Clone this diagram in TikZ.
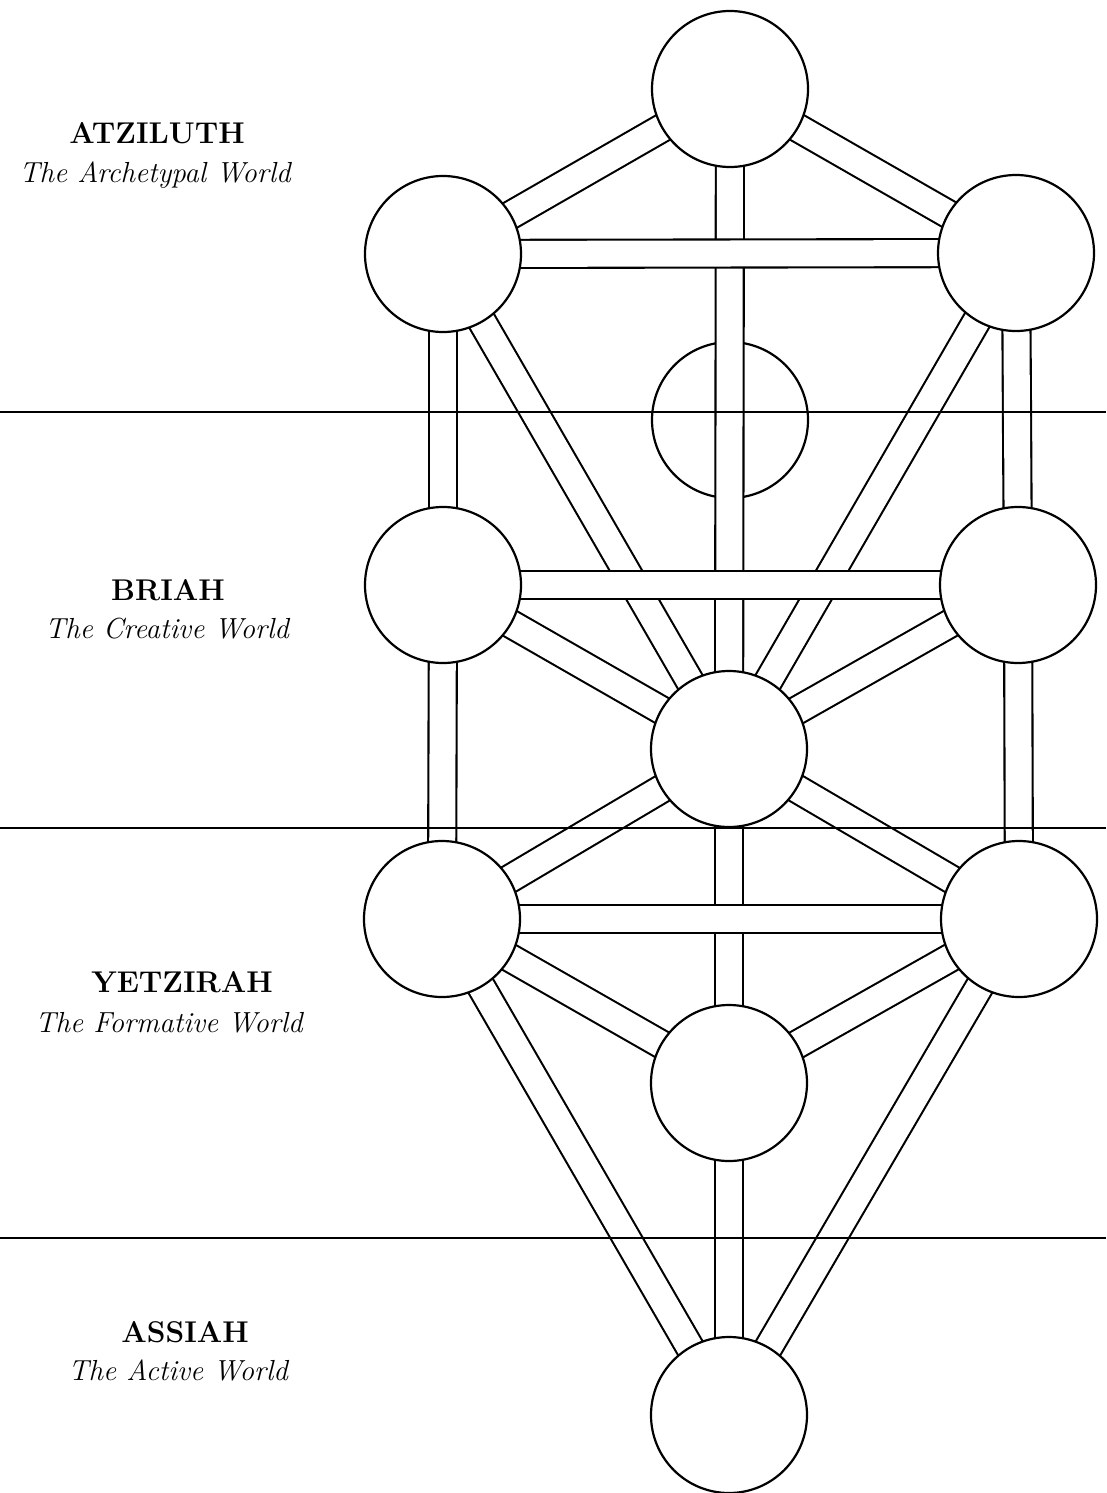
\documentclass[tikz,border=0pt]{standalone}
\begin{document}
\begin{tikzpicture}[x=1pt,y=-1pt,
  sephira/.style={circle, draw=black, fill=white, line width=2.2pt, minimum size=156pt, inner sep=0pt},
  pathw/.style={draw=black, line width=2.1pt, double=white, double distance=26pt},
  worldline/.style={draw=black, line width=1.5pt},
  heading/.style={font=\fontsize{30}{30}\selectfont\bfseries, inner sep=0pt, anchor=base},
  subhead/.style={font=\fontsize{29}{29}\selectfont\itshape, inner sep=0pt, anchor=base}]
\useasboundingbox (0,0) rectangle (1106,1493);
% centres
\coordinate (K) at (730,89);
\coordinate (Ch) at (1016,253);
\coordinate (B) at (443,254);
\coordinate (D) at (730,420);
\coordinate (Ce) at (1018,585);
\coordinate (G) at (443,585);
\coordinate (T) at (729,749);
\coordinate (N) at (1019,919);
\coordinate (H) at (442,919);
\coordinate (Y) at (729,1083);
\coordinate (M) at (729,1415);
% Daath (hidden sephira), under the middle path
\node[sephira] (daath) at (D) {};
% vertical and diagonal paths
\draw[pathw] (K) -- (Ch);
\draw[pathw] (K) -- (B);
\draw[pathw] (K) -- (T);
\draw[pathw] (Ch) -- (T);
\draw[pathw] (Ch) -- (Ce);
\draw[pathw] (B) -- (T);
\draw[pathw] (B) -- (G);
\draw[pathw] (Ce) -- (T);
\draw[pathw] (Ce) -- (N);
\draw[pathw] (G) -- (T);
\draw[pathw] (G) -- (H);
\draw[pathw] (T) -- (N);
\draw[pathw] (T) -- (H);
\draw[pathw] (T) -- (Y);
\draw[pathw] (N) -- (Y);
\draw[pathw] (H) -- (Y);
\draw[pathw] (N) -- (M);
\draw[pathw] (Y) -- (M);
\draw[pathw] (H) -- (M);
% horizontal paths on top
\draw[pathw] (B) -- (Ch);
\draw[pathw] (G) -- (Ce);
\draw[pathw] (H) -- (N);
% sephiroth
\node[sephira] (kether) at (K) {};
\node[sephira] (chokmah) at (Ch) {};
\node[sephira] (binah) at (B) {};
\node[sephira] (chesed) at (Ce) {};
\node[sephira] (geburah) at (G) {};
\node[sephira] (tiphareth) at (T) {};
\node[sephira] (netzach) at (N) {};
\node[sephira] (hod) at (H) {};
\node[sephira] (yesod) at (Y) {};
\node[sephira] (malkuth) at (M) {};
% world divisions
\coordinate (w1a) at (0,412); \coordinate (w1b) at (1106,412);
\coordinate (w2a) at (0,828); \coordinate (w2b) at (1106,828);
\coordinate (w3a) at (0,1238); \coordinate (w3b) at (1106,1238);
\draw[worldline] (w1a) -- (w1b);
\draw[worldline] (w2a) -- (w2b);
\draw[worldline] (w3a) -- (w3b);
% labels
\node[heading] (atz) at (157,143) {ATZILUTH};
\node[subhead] (atzs) at (155,182) {The Archetypal World};
\node[heading] (bri) at (168,600) {BRIAH};
\node[subhead] (bris) at (167,638) {The Creative World};
\node[heading] (yet) at (182,992) {YETZIRAH};
\node[subhead] (yets) at (169,1032) {The Formative World};
\node[heading] (ass) at (185,1342) {ASSIAH};
\node[subhead] (asss) at (178,1380) {The Active World};
\end{tikzpicture}
\end{document}
